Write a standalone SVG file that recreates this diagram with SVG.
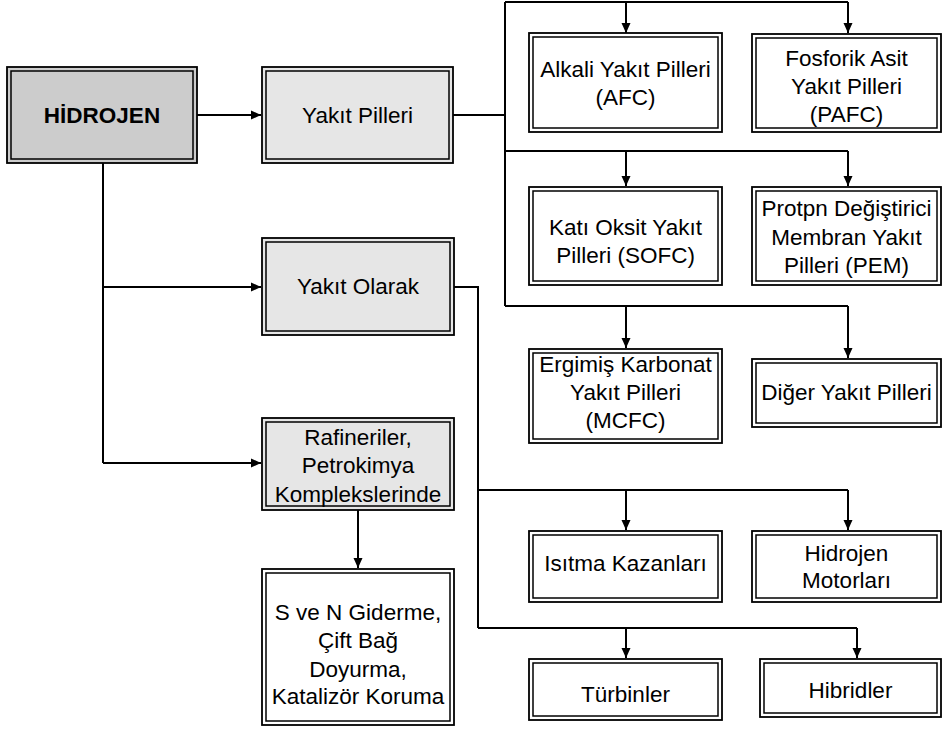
<svg xmlns="http://www.w3.org/2000/svg" width="942" height="734" viewBox="0 0 942 734">
<defs>
<marker id="ah" markerWidth="10" markerHeight="10" refX="10" refY="5" orient="auto" markerUnits="userSpaceOnUse">
<path d="M0,0.5 L10,5 L0,9.5 Z" fill="#000"/>
</marker>
<style>
.o{stroke:#000;stroke-width:1.8}
.i{fill:none;stroke:#000;stroke-width:1.5}
.g1{fill:#cccccc}
.g2{fill:#e6e6e6}
.w{fill:#ffffff}
text{font-family:"Liberation Sans",Arial,sans-serif;font-size:22.5px;fill:#000;text-anchor:middle}
.b{font-weight:bold;font-size:22.5px}
.c{fill:none;stroke:#000;stroke-width:2}
.a{fill:none;stroke:#000;stroke-width:2;marker-end:url(#ah)}
</style>
</defs>
<rect width="942" height="734" fill="#fff"/>
<g id="connectors">
<path class="a" d="M197,115 H261"/>
<path class="c" d="M103,163 V463"/>
<path class="a" d="M103,287 H261"/>
<path class="a" d="M103,463 H261"/>
<path class="c" d="M453,115 H505"/>
<path class="c" d="M505,2 V306"/>
<path class="c" d="M505,2 H848"/>
<path class="a" d="M626,2 V33"/>
<path class="a" d="M848,2 V33"/>
<path class="c" d="M505,151 H848"/>
<path class="a" d="M626,151 V186"/>
<path class="a" d="M848,151 V186"/>
<path class="c" d="M505,306 H848"/>
<path class="a" d="M626,306 V348"/>
<path class="a" d="M848,306 V358"/>
<path class="c" d="M454,287 H478 V628"/>
<path class="c" d="M478,490 H848"/>
<path class="a" d="M626,490 V530"/>
<path class="a" d="M848,490 V530"/>
<path class="c" d="M478,628 H857"/>
<path class="a" d="M626,628 V658"/>
<path class="a" d="M857,628 V658"/>
<path class="a" d="M358,510 V568"/>
</g>
<g id="hidrojen">
<rect class="o g1" x="7" y="67" width="190" height="96"/>
<rect class="i" x="11" y="71" width="182" height="88"/>
<text class="b" x="102" y="123">HİDROJEN</text>
</g>
<g id="yakit-pilleri">
<rect class="o g2" x="262" y="67" width="191" height="96"/>
<rect class="i" x="266" y="71" width="183" height="88"/>
<text x="357.5" y="123">Yakıt Pilleri</text>
</g>
<g id="yakit-olarak">
<rect class="o g2" x="262" y="238" width="192" height="97"/>
<rect class="i" x="266" y="242" width="184" height="89"/>
<text x="358" y="294">Yakıt Olarak</text>
</g>
<g id="rafineriler">
<rect class="o g2" x="262" y="418" width="192" height="92"/>
<rect class="i" x="266" y="422" width="184" height="84"/>
<text x="358" y="445">Rafineriler,</text>
<text x="358" y="473">Petrokimya</text>
<text x="358" y="502">Komplekslerinde</text>
</g>
<g id="s-ve-n">
<rect class="o w" x="262" y="569" width="192" height="156"/>
<rect class="i" x="266" y="573" width="184" height="148"/>
<text x="358" y="620">S ve N Giderme,</text>
<text x="358" y="648">Çift Bağ</text>
<text x="358" y="677">Doyurma,</text>
<text x="358" y="704">Katalizör Koruma</text>
</g>
<g id="afc">
<rect class="o w" x="529" y="33" width="193" height="99"/>
<rect class="i" x="533" y="37" width="185" height="91"/>
<text x="625.5" y="77">Alkali Yakıt Pilleri</text>
<text x="625.5" y="105">(AFC)</text>
</g>
<g id="pafc">
<rect class="o w" x="752" y="34" width="189" height="98"/>
<rect class="i" x="756" y="38" width="181" height="90"/>
<text x="846.5" y="66">Fosforik Asit</text>
<text x="846.5" y="94">Yakıt Pilleri</text>
<text x="846.5" y="122">(PAFC)</text>
</g>
<g id="sofc">
<rect class="o w" x="529" y="187" width="193" height="98"/>
<rect class="i" x="533" y="191" width="185" height="90"/>
<text x="625.5" y="235">Katı Oksit Yakıt</text>
<text x="625.5" y="263">Pilleri (SOFC)</text>
</g>
<g id="pem">
<rect class="o w" x="752" y="187" width="189" height="98"/>
<rect class="i" x="756" y="191" width="181" height="90"/>
<text x="846.5" y="216">Protpn Değiştirici</text>
<text x="846.5" y="245">Membran Yakıt</text>
<text x="846.5" y="273">Pilleri (PEM)</text>
</g>
<g id="mcfc">
<rect class="o w" x="529" y="349" width="193" height="94"/>
<rect class="i" x="533" y="353" width="185" height="86"/>
<text x="625.5" y="372">Ergimiş Karbonat</text>
<text x="625.5" y="400">Yakıt Pilleri</text>
<text x="625.5" y="428">(MCFC)</text>
</g>
<g id="diger">
<rect class="o w" x="752" y="359" width="189" height="68"/>
<rect class="i" x="756" y="363" width="181" height="60"/>
<text x="846.5" y="400">Diğer Yakıt Pilleri</text>
</g>
<g id="isitma">
<rect class="o w" x="529" y="531" width="193" height="71"/>
<rect class="i" x="533" y="535" width="185" height="63"/>
<text x="625.5" y="571">Isıtma Kazanları</text>
</g>
<g id="motorlar">
<rect class="o w" x="752" y="531" width="189" height="71"/>
<rect class="i" x="756" y="535" width="181" height="63"/>
<text x="846.5" y="561">Hidrojen</text>
<text x="846.5" y="588">Motorları</text>
</g>
<g id="turbinler">
<rect class="o w" x="529" y="659" width="193" height="61"/>
<rect class="i" x="533" y="663" width="185" height="53"/>
<text x="625.5" y="702">Türbinler</text>
</g>
<g id="hibridler">
<rect class="o w" x="760" y="659" width="181" height="58"/>
<rect class="i" x="764" y="663" width="173" height="50"/>
<text x="850.5" y="698">Hibridler</text>
</g>
</svg>
